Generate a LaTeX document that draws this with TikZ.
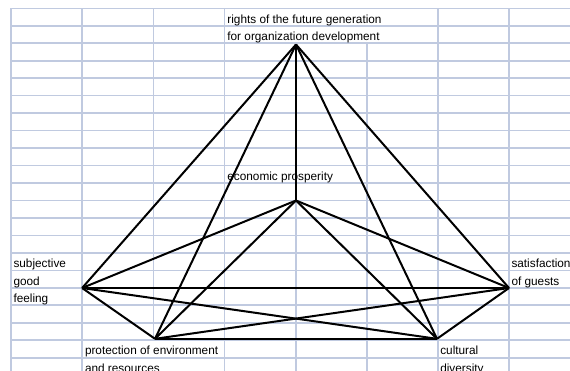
\documentclass[tikz,border=0pt]{standalone}
\usepackage{fontspec}
\setmainfont{Liberation Sans}
\definecolor{gridc}{RGB}{192,202,224}
\tikzset{
  gridline/.style={draw=gridc, line width=1.6pt},
  edge/.style={draw=black, line width=2pt, line join=miter},
  cell/.style={anchor=base west, inner sep=0pt, outer sep=0pt, font=\fontsize{11.8}{14}\selectfont},
}
\begin{document}
\begin{tikzpicture}[x=1pt, y=-1pt]
\clip (0,0) rectangle (570,370);
\fill[white] (0,0) rectangle (570,370);
% horizontal grid lines
\foreach \k in {0,...,20} {
  \draw[gridline] (11,{8.3+17.47*\k}) -- (571,{8.3+17.47*\k});
}
% vertical grid lines (with gaps where text overflows)
\draw[gridline] (11,8.3) -- (11,371);
\draw[gridline] (82.1,8.3) -- (82.1,371);
\draw[gridline] (153.3,8.3) -- (153.3,340.23);
\draw[gridline] (224.4,8.3) -- (224.4,371);
\draw[gridline] (296,43.24) -- (296,165.53);
\draw[gridline] (296,183.0) -- (296,371);
\draw[gridline] (366.7,43.24) -- (366.7,371);
\draw[gridline] (437.8,8.3) -- (437.8,371);
\draw[gridline] (509,8.3) -- (509,371);

% vertices
\coordinate (T) at (296,44.5);
\coordinate (E) at (296,200.5);
\coordinate (S) at (82.1,288);
\coordinate (G) at (509,288);
\coordinate (P) at (155,338.8);
\coordinate (C) at (437,338.8);

% connectors
\draw[edge] (T) -- (S);
\draw[edge] (T) -- (P);
\draw[edge] (T) -- (E);
\draw[edge] (T) -- (C);
\draw[edge] (T) -- (G);
\draw[edge] (E) -- (S);
\draw[edge] (E) -- (P);
\draw[edge] (E) -- (C);
\draw[edge] (E) -- (G);
\draw[edge] (S) -- (G);
\draw[edge] (S) -- (C);
\draw[edge] (S) -- (P);
\draw[edge] (P) -- (G);
\draw[edge] (P) -- (C);
\draw[edge] (C) -- (G);

% texts
\node[cell] (t1) at (227.4,23.0) {rights of the future generation};
\node[cell] (t2) at (227.4,40.4) {for organization development};
\node[cell] (e1) at (227.4,180.2) {economic prosperity};
\node[cell] (s1) at (13.5,267.5) {subjective};
\node[cell] (s2) at (13.5,285.0) {good};
\node[cell] (s3) at (13.5,302.5) {feeling};
\node[cell] (g1) at (511.5,267.5) {satisfaction};
\node[cell] (g2) at (511.5,285.0) {of guests};
\node[cell] (p1) at (85,354.9) {protection of environment};
\node[cell] (p2) at (85,372.4) {and resources};
\node[cell] (c1) at (440.3,354.9) {cultural};
\node[cell] (c2) at (440.3,372.4) {diversity};
\end{tikzpicture}
\end{document}
